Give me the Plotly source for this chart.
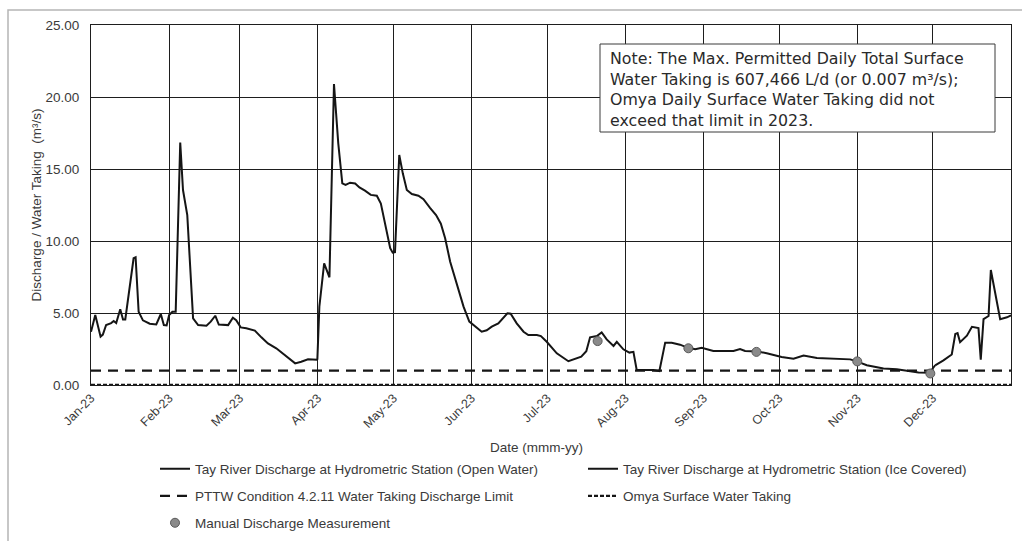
import pandas as pd
import plotly.graph_objects as go

# ---------------- data ----------------
year_start = "2023-01-01"

# Tay River discharge (day of year offset from Jan 1, value m3/s)
ice1_days = [0, 1.7, 3.8, 4.7, 6, 8, 9, 10, 11.6, 12.7, 13.6, 15.7, 16.9, 17.7, 18.9, 20.6, 23.3,
             25.9, 27.7, 28.9, 30, 31, 32.3, 33.6, 35.4, 36.5, 38.2, 40.5, 42.5, 45.8, 47.5, 49.3,
             50.7, 54.4, 56.3, 57.6, 59.4, 61.6, 65, 67.6, 70.2, 73.5, 76.9, 79.5, 81, 83.4, 86.1, 89.8]
ice1_vals = [3.7, 4.86, 3.36, 3.5, 4.17, 4.3, 4.44, 4.3, 5.26, 4.55, 4.55, 7.06, 8.8, 8.87, 5.09, 4.49, 4.26,
             4.2, 4.93, 4.16, 4.14, 4.86, 5.09, 5.09, 16.83, 13.54, 11.8, 4.63, 4.16, 4.12, 4.4, 4.81,
             4.2, 4.16, 4.67, 4.5, 4.0, 3.94, 3.78, 3.31, 2.89, 2.55, 2.08, 1.74, 1.5, 1.62, 1.78, 1.76]

open_days = [89.8, 90.6, 92.5, 94.6, 96.4, 98.1, 99.7, 101, 102.8, 104.8, 106.5, 108.7, 111, 113.4, 115,
             116.7, 118.7, 119.7, 120.6, 122.3, 123.7, 125.3, 127.3, 129.9, 131.9, 134.5, 136.9, 138.8,
             140.5, 142.5, 145.1, 147.8, 150.1, 152.4, 155, 157, 159, 161.6, 163.6, 165.2, 166.5, 168.9,
             171.6, 173.5, 176.9, 178.5, 180.8, 184.8, 189.4, 194.5, 196.5, 198, 200.7, 202.6, 204.6,
             207.3, 208.6, 211.2, 213.6, 215.2, 216.5, 223.1, 225.5, 227.8, 230.4, 233.7, 236.6, 239.7,
             242.3, 244.3, 246.9, 254.9, 257.5, 259.5, 264.5, 268.1, 271.4, 274, 278.7, 282.7, 288,
             295.9, 301.2, 303.8, 307.8, 314.4, 319.7, 325, 328.3, 332.7, 334.9]
open_vals = [1.76, 5.44, 8.45, 7.48, 20.9, 16.78, 14.0, 13.9, 14.05, 14.0, 13.72, 13.5, 13.2, 13.14, 12.6,
             11.2, 9.5, 9.19, 9.23, 15.97, 14.7, 13.54, 13.26, 13.14, 12.9, 12.3, 11.8, 11.2,
             10.19, 8.56, 7.0, 5.44, 4.4, 4.05, 3.7, 3.8, 4.05, 4.28, 4.63, 4.98, 4.95, 4.28,
             3.7, 3.47, 3.47, 3.4, 3.0, 2.2, 1.65, 1.97, 2.35, 3.31, 3.4, 3.65, 3.17,
             2.71, 3.0, 2.48, 2.25, 2.3, 1.04, 1.04, 0.97, 2.94, 2.94, 2.8, 2.6, 2.48,
             2.59, 2.48, 2.36, 2.36, 2.5, 2.36, 2.33, 2.2, 2.04, 1.94, 1.83, 2.05, 1.88,
             1.83, 1.78, 1.64, 1.37, 1.14, 1.1, 0.96, 0.87, 0.85, 1.37]

ice2_days = [334.9, 338.2, 341.5, 342.9, 343.8, 344.8, 347.5, 349.5, 352.1, 353, 354.1, 356.1, 357,
             360.7, 363.4, 365]
ice2_vals = [1.37, 1.71, 2.12, 3.54, 3.6, 2.97, 3.42, 4.04, 3.95, 1.76, 4.57, 4.79, 7.99,
             4.57, 4.7, 4.84]

# PTTW Condition 4.2.11 water taking discharge limit
limit_dates = ["2023-01-01", "2024-01-01"]
limit_vals = [1.0, 1.0]

# Omya surface water taking (m3/s)
omya_dates = ["2023-01-01", "2023-02-01", "2023-03-01", "2023-04-01", "2023-05-01", "2023-06-01",
              "2023-07-01", "2023-08-01", "2023-09-01", "2023-10-01", "2023-11-01", "2023-12-01",
              "2024-01-01"]
omya_vals = [0.004, 0.004, 0.004, 0.005, 0.005, 0.005, 0.006, 0.006, 0.006, 0.005, 0.005, 0.004, 0.004]

# Manual discharge measurements
manual_dates = ["2023-07-21", "2023-08-26", "2023-09-22", "2023-11-01", "2023-11-30"]
manual_vals = [3.05, 2.55, 2.3, 1.64, 0.8]

# x tick labels (month starts)
month_ticks = ["2023-01-01", "2023-02-01", "2023-03-01", "2023-04-01", "2023-05-01", "2023-06-01",
               "2023-07-01", "2023-08-01", "2023-09-01", "2023-10-01", "2023-11-01", "2023-12-01"]

note_text = ("Note: The Max. Permitted Daily Total Surface<br>"
             "Water Taking is 607,466 L/d (or 0.007 m³/s);<br>"
             "Omya Daily Surface Water Taking did not<br>"
             "exceed that limit in 2023.")


def to_dates(days):
    return pd.Timestamp(year_start) + pd.to_timedelta(days, unit="D")


# ---------------- layout helpers (pixel -> paper) ----------------
W, H = 1022, 541
L, R, T, B = 91, 1011, 25, 385


def px(x):
    return (x - L) / (R - L)


def py(y):
    return (B - y) / (B - T)


FONT = "Liberation Sans, Arial, sans-serif"
TXT = "#3a3a3a"
LINE = "#151515"

fig = go.Figure()

fig.add_trace(go.Scatter(x=to_dates(open_days), y=open_vals, mode="lines",
                         line=dict(color=LINE, width=2),
                         name="Tay River Discharge at Hydrometric Station (Open Water)",
                         legend="legend"))
fig.add_trace(go.Scatter(x=to_dates(ice1_days), y=ice1_vals, mode="lines",
                         line=dict(color=LINE, width=2),
                         name="Tay River Discharge at Hydrometric Station (Ice Covered)",
                         legend="legend2", legendgroup="ice"))
fig.add_trace(go.Scatter(x=to_dates(ice2_days), y=ice2_vals, mode="lines",
                         line=dict(color=LINE, width=2),
                         name="Tay River Discharge at Hydrometric Station (Ice Covered)",
                         legend="legend2", legendgroup="ice", showlegend=False))
fig.add_trace(go.Scatter(x=limit_dates, y=limit_vals, mode="lines",
                         line=dict(color=LINE, width=2.2, dash="10px,7px"),
                         name="PTTW Condition 4.2.11 Water Taking Discharge Limit",
                         legend="legend3"))
fig.add_trace(go.Scatter(x=omya_dates, y=omya_vals, mode="lines",
                         line=dict(color=LINE, width=2.2, dash="4px,2px"),
                         name="Omya Surface Water Taking", legend="legend4", cliponaxis=False))
fig.add_trace(go.Scatter(x=manual_dates, y=manual_vals, mode="markers",
                         marker=dict(color="#8a8a8a", size=9, line=dict(color="#5a5a5a", width=1)),
                         name="Manual Discharge Measurement", legend="legend5"))

legend_common = dict(font=dict(family=FONT, size=13.5, color=TXT), bgcolor="rgba(0,0,0,0)",
                     xanchor="left", yanchor="middle", orientation="h")
legend_pos = {
    "legend": (155, 469),
    "legend2": (583, 469),
    "legend3": (155, 496),
    "legend4": (583, 496),
    "legend5": (155, 523),
}
layout_legends = {k: dict(legend_common, x=px(x), y=py(y)) for k, (x, y) in legend_pos.items()}

fig.update_layout(
    width=W, height=H,
    margin=dict(l=L, r=W - R, t=T, b=H - B, autoexpand=False),
    paper_bgcolor="white", plot_bgcolor="white",
    font=dict(family=FONT, color=TXT),
    showlegend=True,
    **layout_legends,
    xaxis=dict(type="date", range=["2023-01-01", "2024-01-01"], tickvals=month_ticks,
               tickformat="%b-%y", tickangle=-45, showgrid=True, gridcolor="#1e1e1e", gridwidth=1,
               showline=True, linecolor="#1e1e1e", linewidth=1, mirror=True, ticks="",
               tickfont=dict(family=FONT, size=12.5, color=TXT), zeroline=False),
    yaxis=dict(range=[0, 25], dtick=5, tickformat=".2f", showgrid=True, gridcolor="#1e1e1e",
               gridwidth=1, showline=True, linecolor="#1e1e1e", linewidth=1, mirror=True,
               ticks="", ticklabelstandoff=8, tickfont=dict(family=FONT, size=13.5, color=TXT),
               zeroline=False,
               title=dict(text="Discharge / Water Taking  (m³/s)",
                          font=dict(family=FONT, size=13.5, color=TXT), standoff=0)),
    annotations=[
        dict(text="Date (mmm-yy)", xref="paper", yref="paper", x=px(536), y=py(447),
             xanchor="center", yanchor="middle",
             showarrow=False, font=dict(family=FONT, size=13.5, color=TXT)),
        dict(text=note_text, xref="paper", yref="paper", x=px(608), y=py(47),
             xanchor="left", yanchor="top", align="left", showarrow=False,
             font=dict(family="DejaVu Sans, sans-serif", size=15.8, color="#2a2a2a")),
    ],
    shapes=[
        dict(type="rect", xref="paper", yref="paper", x0=px(8), x1=px(1030), y0=py(10), y1=py(600),
             line=dict(color="#b5b5b5", width=1.5), layer="below"),
        dict(type="rect", xref="paper", yref="paper", x0=px(600), x1=px(995), y0=py(44), y1=py(132),
             line=dict(color="#3a3a3a", width=1), fillcolor="white", layer="above"),
    ],
)

fig.write_html("out.html")
